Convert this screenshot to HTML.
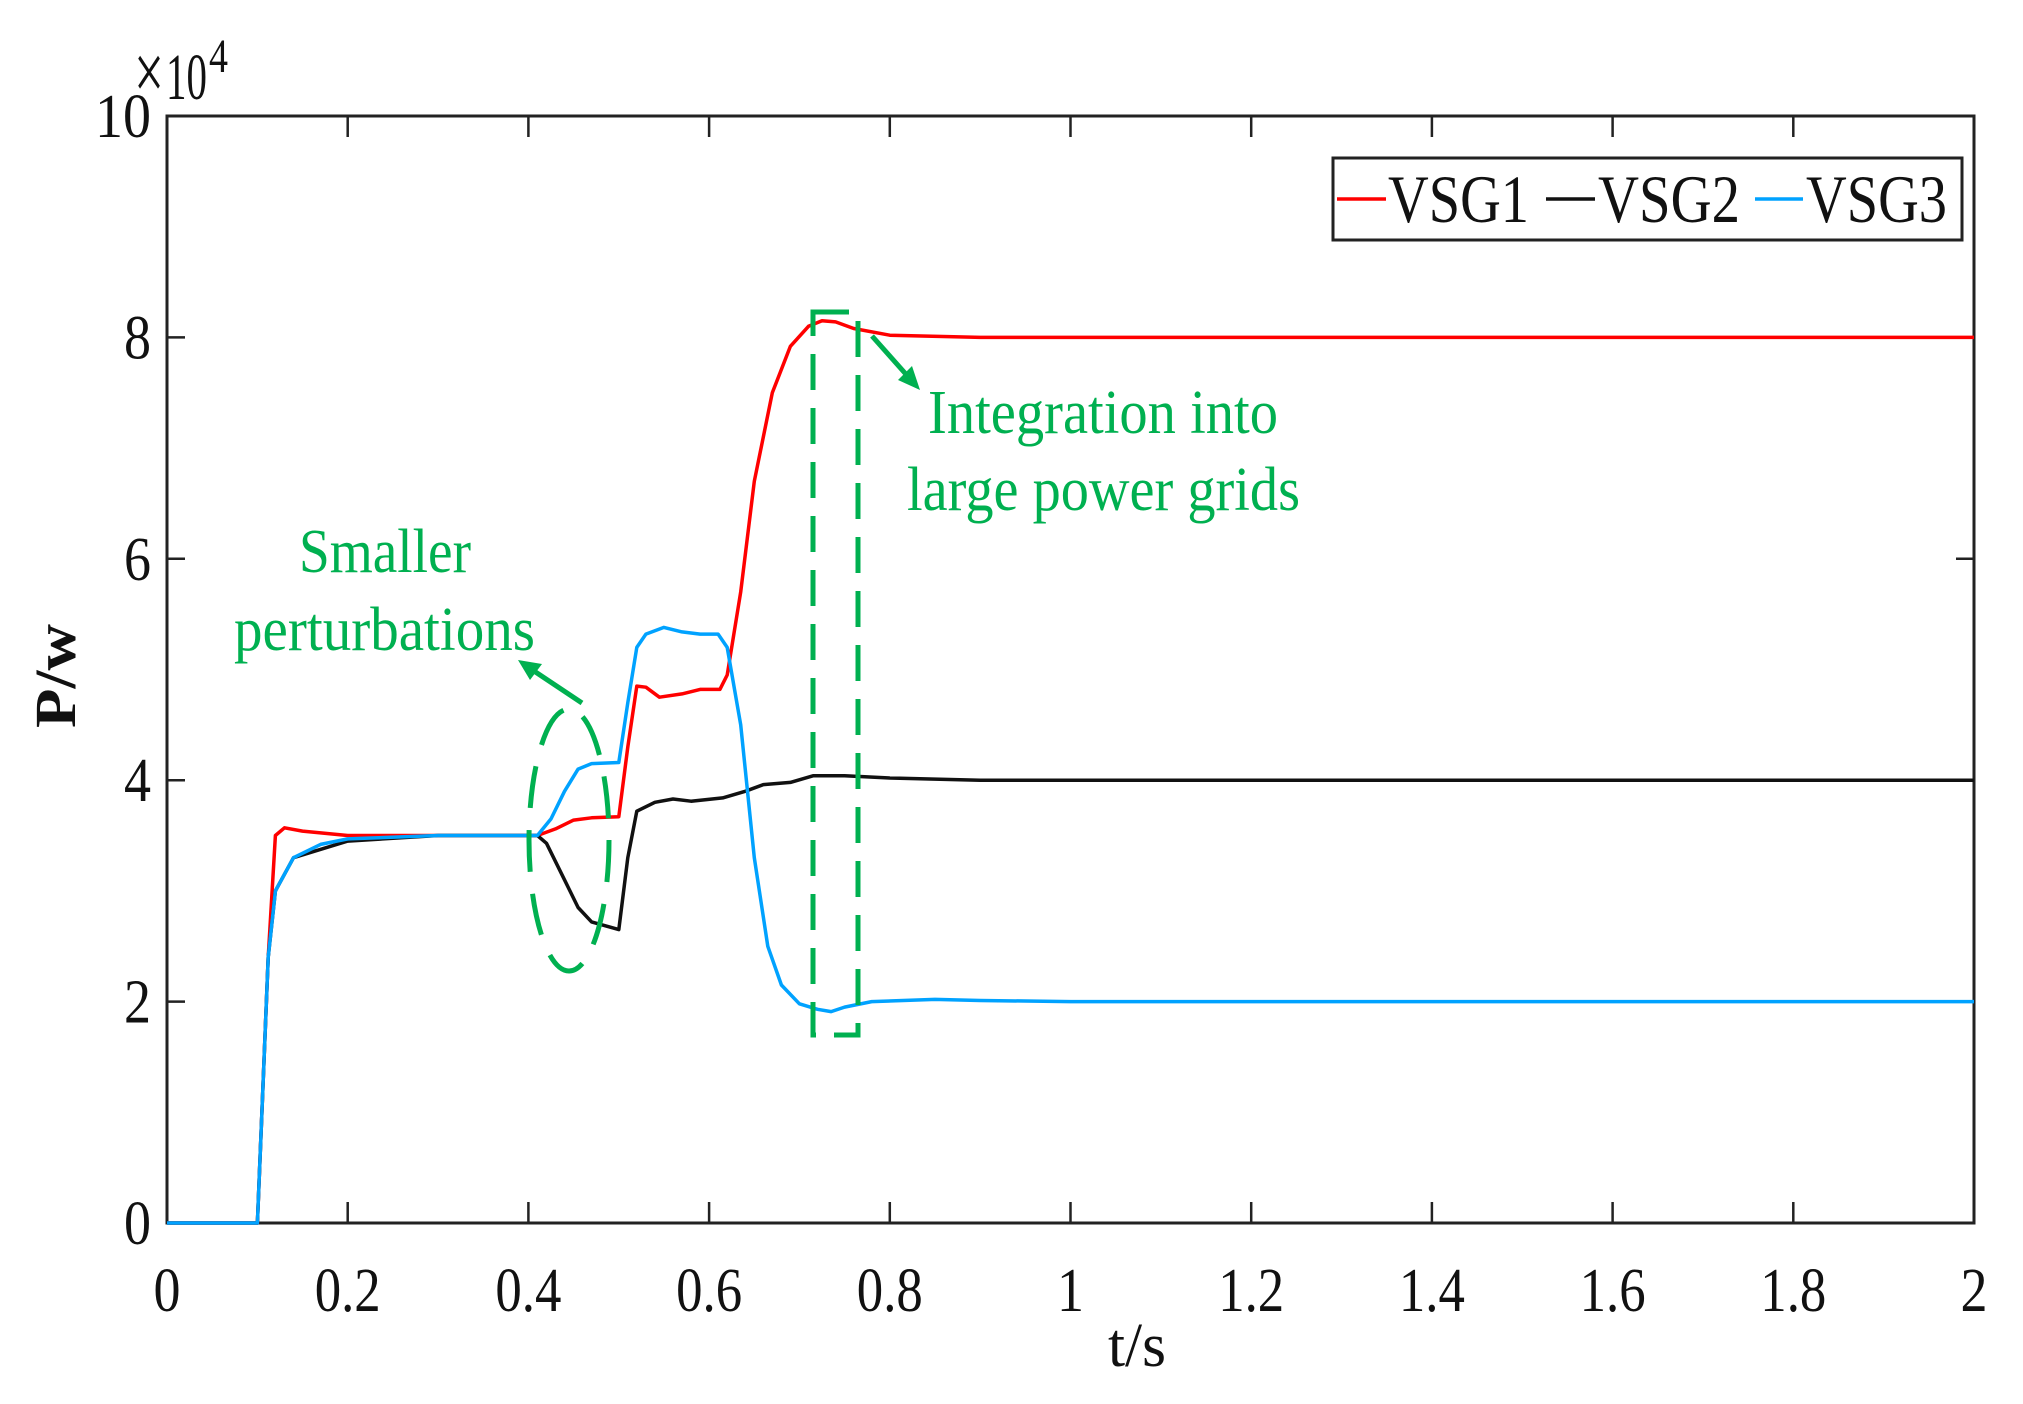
<!DOCTYPE html>
<html><head><meta charset="utf-8"><style>
html,body{margin:0;padding:0;background:#fff;}
svg{display:block;}
text{font-family:"Liberation Serif",serif;fill:#111;}
.g{fill:#00b050;}
</style></head><body>
<svg id="s" width="2023" height="1404" viewBox="0 0 2023 1404" xmlns="http://www.w3.org/2000/svg">
<rect x="167" y="116" width="1807" height="1107" fill="none" stroke="#222" stroke-width="3"/>
<g id="ticks" stroke="#222" stroke-width="2.5"></g>
<g id="series" fill="none" stroke-width="3.5" stroke-linejoin="round"></g>
<g id="labels" font-size="62"></g>
<text x="134" y="99" font-size="80" textLength="30" lengthAdjust="spacingAndGlyphs">×</text>
<text x="166" y="99" font-size="66" textLength="41" lengthAdjust="spacingAndGlyphs">10</text>
<text x="209" y="72" font-size="48" textLength="19" lengthAdjust="spacingAndGlyphs">4</text>
<text transform="translate(75,676) rotate(-90)" text-anchor="middle" font-size="58" font-weight="bold" textLength="104" lengthAdjust="spacingAndGlyphs">P/w</text>
<text x="1108" y="1366" font-size="62" textLength="58" lengthAdjust="spacingAndGlyphs">t/s</text>
<rect x="1333" y="158" width="629" height="82" fill="#fff" stroke="#222" stroke-width="3"/>
<line x1="1337" y1="199" x2="1386" y2="199" stroke="#ff0000" stroke-width="3.5"/>
<line x1="1546" y1="199" x2="1595" y2="199" stroke="#111" stroke-width="3.5"/>
<line x1="1755" y1="199" x2="1803" y2="199" stroke="#00a2ff" stroke-width="3.5"/>
<text x="1388" y="222" font-size="68" textLength="141" lengthAdjust="spacingAndGlyphs">VSG1</text>
<text x="1598" y="222" font-size="68" textLength="142" lengthAdjust="spacingAndGlyphs">VSG2</text>
<text x="1806" y="222" font-size="68" textLength="141" lengthAdjust="spacingAndGlyphs">VSG3</text>
<g fill="none" stroke="#00b050" stroke-width="5">
<ellipse cx="569" cy="840" rx="40" ry="131" stroke-dasharray="42 22"/>
<rect x="813" y="312" width="45" height="723" stroke-dasharray="36 18"/>
<line x1="582" y1="703" x2="528" y2="667"/>
<line x1="872" y1="336" x2="912" y2="381"/>
</g>
<polygon class="g" points="518,660 542,664 530,680"/>
<polygon class="g" points="920,390 898,380 912,366"/>
<text class="g" x="299" y="572" font-size="62" textLength="172" lengthAdjust="spacingAndGlyphs">Smaller</text>
<text class="g" x="234" y="650" font-size="62" textLength="301" lengthAdjust="spacingAndGlyphs">perturbations</text>
<text class="g" x="928" y="433" font-size="62" textLength="350" lengthAdjust="spacingAndGlyphs">Integration into</text>
<text class="g" x="907" y="510" font-size="62" textLength="393" lengthAdjust="spacingAndGlyphs">large power grids</text>
</svg>
<script>
var NS="http://www.w3.org/2000/svg";
function X(t){return 167+t*903.5;}
function Y(v){return 1223-v*110.7;}
function el(n,a,p){var e=document.createElementNS(NS,n);for(var k in a)e.setAttribute(k,a[k]);p.appendChild(e);return e;}
var tk=document.getElementById('ticks'),lb=document.getElementById('labels');
var xl=["0","0.2","0.4","0.6","0.8","1","1.2","1.4","1.6","1.8","2"];
for(var i=0;i<=10;i++){var x=X(i*0.2);
 if(i>0&&i<10){el('line',{x1:x,y1:1223,x2:x,y2:1202},tk);el('line',{x1:x,y1:116,x2:x,y2:137},tk);}
 var t=el('text',{x:x,y:1311,'text-anchor':'middle',textLength:xl[i].length==1?27:66,lengthAdjust:'spacingAndGlyphs'},lb);t.textContent=xl[i];}
for(var v=0;v<=10;v+=2){var y=Y(v);
 if(v>0&&v<10){el('line',{x1:167,y1:y,x2:185,y2:y},tk);el('line',{x1:1974,y1:y,x2:1956,y2:y},tk);}
 var s=String(v);var t=el('text',{x:151,y:y+21,'text-anchor':'end',textLength:s.length==1?27:56,lengthAdjust:'spacingAndGlyphs'},lb);t.textContent=s;}
var red=[[0,0],[0.1,0],[0.112,2.4],[0.12,3.5],[0.13,3.57],[0.15,3.54],[0.2,3.5],[0.41,3.5],[0.43,3.56],[0.45,3.64],[0.47,3.66],[0.5,3.67],[0.51,4.3],[0.52,4.85],[0.53,4.84],[0.545,4.75],[0.57,4.78],[0.59,4.82],[0.612,4.82],[0.62,4.95],[0.635,5.7],[0.65,6.7],[0.67,7.5],[0.69,7.92],[0.71,8.1],[0.725,8.15],[0.74,8.14],[0.76,8.08],[0.8,8.02],[0.9,8.0],[2,8.0]];
var blk=[[0,0],[0.1,0],[0.112,2.4],[0.12,3.0],[0.14,3.3],[0.2,3.45],[0.3,3.5],[0.41,3.5],[0.42,3.43],[0.44,3.1],[0.455,2.85],[0.47,2.72],[0.5,2.65],[0.51,3.3],[0.52,3.72],[0.54,3.8],[0.56,3.83],[0.58,3.81],[0.615,3.84],[0.64,3.9],[0.66,3.96],[0.69,3.98],[0.715,4.04],[0.75,4.04],[0.8,4.02],[0.9,4.0],[2,4.0]];
var blu=[[0,0],[0.1,0],[0.112,2.4],[0.12,3.0],[0.14,3.3],[0.17,3.42],[0.2,3.47],[0.3,3.5],[0.41,3.5],[0.425,3.65],[0.44,3.9],[0.455,4.1],[0.47,4.15],[0.5,4.16],[0.51,4.7],[0.52,5.2],[0.53,5.32],[0.55,5.38],[0.57,5.34],[0.59,5.32],[0.61,5.32],[0.62,5.2],[0.635,4.5],[0.65,3.3],[0.665,2.5],[0.68,2.15],[0.7,1.98],[0.72,1.93],[0.735,1.91],[0.75,1.95],[0.78,2.0],[0.85,2.02],[0.9,2.01],[1.0,2.0],[2,2.0]];
var g=document.getElementById('series');
function pl(d,c){el('polyline',{points:d.map(function(p){return X(p[0]).toFixed(1)+','+Y(p[1]).toFixed(1);}).join(' '),stroke:c},g);}
pl(red,'#ff0000');pl(blk,'#111');pl(blu,'#00a2ff');
</script>
</body></html>
